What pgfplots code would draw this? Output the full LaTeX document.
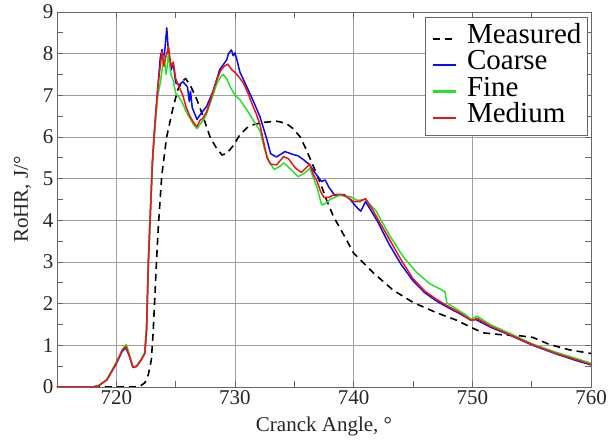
\documentclass[border=0pt]{standalone}
\usepackage{fontspec}
\setmainfont{Liberation Serif}
\usepackage{pgfplots}
\pgfplotsset{compat=1.18}
\definecolor{cBlue}{RGB}{10,10,245}
\definecolor{cGreen}{RGB}{40,225,40}
\definecolor{cRed}{RGB}{240,20,20}
\begin{document}
\begin{tikzpicture}
\begin{axis}[
  scale only axis,
  width=534pt, height=375pt,
  xmin=715, xmax=760, ymin=0, ymax=9,
  xtick={720,730,740,750,760},
  ytick={0,1,2,3,4,5,6,7,8,9},
  minor x tick num=1, minor y tick num=1,
  tick align=inside,
  major tick length=6pt, minor tick length=6pt,
  grid=major,
  major grid style={black!38, line width=0.7pt},
  axis line style={black!60, line width=0.8pt},
  every tick/.style={black!60, line width=0.7pt},
  /pgf/number format/assume math mode=true,
  /pgf/number format/1000 sep={},
  tick label style={font=\fontsize{21}{24}\selectfont, text=black!85},
  label style={font=\fontsize{21}{24}\selectfont, text=black!85},
  xlabel={Cranck Angle, °},
  ylabel={RoHR, J/°},
  xlabel style={at={(axis description cs:0.5,-0.12)}, anchor=base},
  ylabel style={at={(axis description cs:-0.0543,0.5)}, anchor=base},
  legend style={at={(rel axis cs:0.994,0.987)}, anchor=north east,
    font=\fontsize{29}{26}\selectfont, draw=black!60, line width=0.8pt,
    fill=white, inner sep=6pt,
    nodes={inner sep=0pt, text height=20pt, text depth=6.5pt},
    column sep=10pt},
  legend cell align=left,
]
\addplot[draw=black, dash pattern=on 7pt off 5pt, line width=1.6pt,
  legend image code/.code={\draw[black, line width=2pt, dash pattern=on 7pt off 5pt] (0pt,-2pt) -- (23pt,-2pt);}] coordinates {
(715,0) (721.5,0) (722.0,0.02) (722.4,0.1) (722.7,0.3) (722.95,0.65) (723.1,1.3)
(723.26,2.25) (723.4,3.1) (723.54,3.85) (723.82,5.05) (724.24,6.0) (724.8,6.73)
(725.2,7.15) (725.6,7.35) (725.85,7.4) (726.3,7.2) (726.8,6.89) (727.3,6.5)
(727.9,6.0) (728.4,5.75) (728.9,5.57) (729.3,5.6) (729.9,5.81) (730.4,6.05)
(731.0,6.22) (731.6,6.3) (732.4,6.35) (733.5,6.38) (734.3,6.33) (734.9,6.2)
(735.5,6.0) (736.0,5.7) (736.5,5.37) (737.2,4.89) (737.7,4.5) (738.3,4.09)
(739.4,3.53) (740.0,3.21) (741.7,2.73) (743.3,2.33) (745.0,2.03) (747.0,1.78)
(748.7,1.6) (749.9,1.43) (750.9,1.3) (752.6,1.25) (754.0,1.23) (755.1,1.19)
(756.5,1.02) (758.2,0.89) (759.9,0.81) (760,0.8)
};
\addlegendentry{Measured}
\addplot[draw=cBlue, line width=1.5pt, line join=round,
  legend image code/.code={\draw[cBlue, line width=2.2pt] (0pt,-2pt) -- (23pt,-2pt);}] coordinates {
(715,0) (718,0) (718.5,0.03) (719.2,0.17) (720.0,0.56) (720.5,0.86) (720.8,0.94)
(721.1,0.74) (721.4,0.47) (721.7,0.5) (722.1,0.66) (722.4,0.82) (722.55,1.4)
(722.7,3.0) (722.9,4.4) (723.05,5.45) (723.25,6.3) (723.5,7.2) (723.7,7.9)
(723.85,8.1) (724.0,7.8) (724.15,8.3) (724.25,8.62) (724.4,8.0) (724.6,7.6)
(724.8,7.75) (725.0,7.3) (725.3,7.25) (725.6,7.33) (726.0,7.2) (726.15,6.85)
(726.25,7.1) (726.4,6.7) (726.8,6.42) (727.05,6.53) (727.6,6.73) (728.2,7.13)
(728.7,7.61) (729.3,7.85) (729.45,8.0) (729.7,8.09) (729.85,7.95) (730.0,8.02)
(730.2,7.81) (730.4,7.57) (731.0,7.2) (731.5,6.89) (732.1,6.49) (732.7,5.93)
(733.0,5.6) (733.5,5.52) (734.2,5.65) (734.9,5.58) (735.3,5.55) (735.8,5.45)
(736.3,5.33) (736.6,5.2) (736.9,5.08) (737.3,4.93) (737.6,4.97) (737.9,4.8)
(738.4,4.6) (738.9,4.6) (739.2,4.62) (739.7,4.5) (740.3,4.3) (740.6,4.22)
(741.0,4.45) (742.0,3.98) (743.0,3.42) (744.0,2.94) (745.0,2.55) (746.0,2.26)
(747.0,2.06) (748.0,1.9) (749.0,1.75) (749.9,1.6) (750.3,1.62) (751.5,1.44)
(753.2,1.24) (755.1,1.0) (757.1,0.79) (758.8,0.63) (760,0.53)
};
\addlegendentry{Coarse}
\addplot[draw=cGreen, line width=1.5pt, line join=round,
  legend image code/.code={\draw[cGreen, line width=2.2pt] (0pt,-2pt) -- (23pt,-2pt);}] coordinates {
(715,0) (718,0) (718.5,0.03) (719.2,0.18) (720.0,0.6) (720.5,0.9) (720.85,1.02)
(721.1,0.78) (721.4,0.48) (721.7,0.5) (722.1,0.67) (722.4,0.83) (722.55,1.4)
(722.7,3.0) (722.9,4.4) (723.05,5.4) (723.25,6.2) (723.5,7.0) (723.7,7.3)
(723.85,7.6) (724.0,7.95) (724.2,7.5) (724.4,8.0) (724.6,7.5) (724.8,7.35)
(725.0,7.05) (725.3,6.95) (725.6,6.8) (725.9,6.6) (726.2,6.45) (726.5,6.3)
(726.8,6.2) (727.05,6.3) (727.3,6.4) (727.6,6.55) (727.9,6.8) (728.2,7.05)
(728.5,7.3) (728.8,7.45) (729.0,7.5) (729.3,7.4) (729.6,7.2) (730.0,7.0)
(730.4,6.9) (731.0,6.65) (731.5,6.42) (732.1,6.15) (732.5,5.7) (732.9,5.4)
(733.3,5.22) (733.8,5.3) (734.1,5.38) (734.6,5.25) (735.3,5.05) (735.8,5.12)
(736.3,5.25) (736.9,4.8) (737.3,4.37) (737.6,4.4) (738.0,4.5) (738.8,4.6)
(739.7,4.57) (740.3,4.48) (741.0,4.5) (741.9,4.22) (743.0,3.65) (744.2,3.12)
(745.3,2.75) (746.4,2.48) (747.3,2.35) (747.7,2.28) (747.85,2.02) (748.5,1.9)
(749.5,1.72) (749.9,1.63) (750.4,1.7) (751.5,1.5) (753.2,1.28) (755.1,1.03)
(757.1,0.83) (758.8,0.68) (760,0.57)
};
\addlegendentry{Fine}
\addplot[draw=cRed, line width=1.5pt, line join=round,
  legend image code/.code={\draw[cRed, line width=2.2pt] (0pt,-2pt) -- (23pt,-2pt);}] coordinates {
(715,0) (718,0) (718.5,0.03) (719.2,0.17) (720.0,0.57) (720.5,0.88) (720.8,0.97)
(721.1,0.75) (721.4,0.47) (721.7,0.49) (722.1,0.65) (722.4,0.8) (722.55,1.4)
(722.7,3.0) (722.9,4.4) (723.05,5.45) (723.25,6.3) (723.5,7.2) (723.7,7.7)
(723.85,8.05) (724.0,7.7) (724.2,7.95) (724.4,8.17) (724.6,7.7) (724.8,7.8)
(725.0,7.4) (725.3,7.2) (725.6,7.0) (725.9,6.7) (726.2,6.5) (726.5,6.35)
(726.8,6.25) (727.05,6.4) (727.3,6.45) (727.6,6.6) (727.9,6.85) (728.2,7.15)
(728.5,7.4) (728.8,7.6) (729.1,7.7) (729.4,7.75) (729.7,7.62) (730.0,7.55)
(730.3,7.45) (730.7,7.3) (731.1,7.05) (731.5,6.75) (731.8,6.55) (732.1,6.3)
(732.4,5.9) (732.7,5.5) (733.0,5.35) (733.5,5.33) (734.1,5.53) (734.5,5.48)
(735.1,5.25) (735.6,5.15) (736.3,5.35) (736.6,5.1) (736.9,4.95) (737.2,4.7)
(737.5,4.55) (737.9,4.55) (738.4,4.62) (739.0,4.62) (739.5,4.55) (740.0,4.45)
(740.5,4.45) (741.0,4.52) (741.5,4.3) (742.0,4.05) (743.0,3.55) (744.0,3.05)
(745.0,2.6) (746.0,2.3) (747.0,2.1) (748.0,1.93) (749.0,1.77) (749.9,1.6)
(750.2,1.62) (750.4,1.65) (751.5,1.46) (753.2,1.25) (755.1,1.01) (757.1,0.8)
(758.8,0.65) (760,0.54)
};
\addlegendentry{Medium}
\end{axis}
\pgfresetboundingbox
\useasboundingbox (-57pt,-54pt) rectangle (551pt,387pt);
\end{tikzpicture}
\end{document}
